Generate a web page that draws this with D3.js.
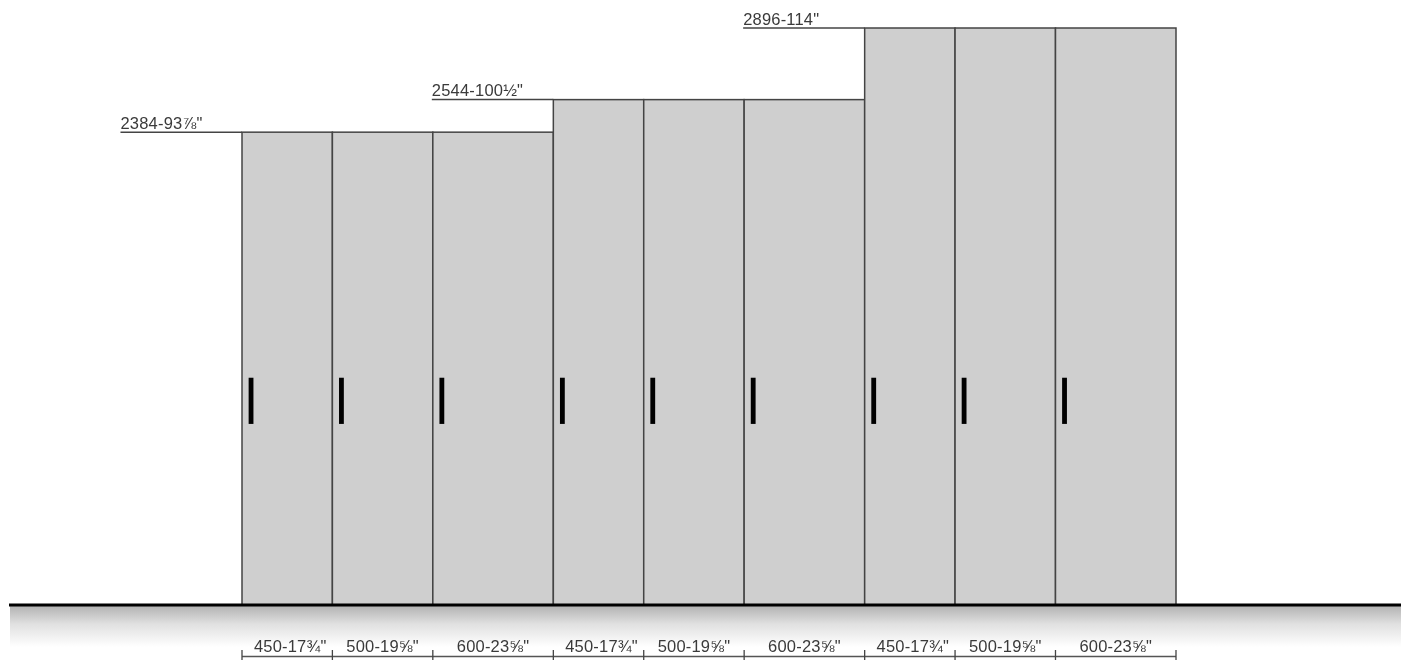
<!DOCTYPE html>
<html>
<head>
<meta charset="utf-8">
<script src="https://cdn.jsdelivr.net/npm/d3@7"></script>
<style>
  html, body { margin: 0; padding: 0; background: #fff; }
  svg { display: block; filter: blur(0.35px); }
  text { font-family: "Liberation Sans", Arial, sans-serif; fill: #3a3a3a; letter-spacing: 0.2px; }
</style>
</head>
<body>
<div id="chart"></div>
<script>
// all in mm
const panelWidths = [450, 500, 600];
const widthLabels = ["450-17¾\"", "500-19⅝\"", "600-23⅝\""];
const cabinetHeights = [2384, 2544, 2896];
const heightLabels = ["2384-93⅞\"", "2544-100½\"", "2896-114\""];
const handleSpan = [950, 1177];
const handleInset = [33, 57];

const width = 1401, height = 660;
const floorY = 605;

const svg = d3.select("#chart").append("svg")
  .attr("width", width)
  .attr("height", height);

// one row of panels per cabinet height
let panels = [];
let run = 0;
cabinetHeights.forEach((h, i) => {
  panelWidths.forEach((w, j) => {
    panels.push({start: run, end: run + w, h: h, group: i, label: widthLabels[j]});
    run += w;
  });
});

const x = d3.scaleLinear().domain([0, run]).range([242, 1176]);
// the scan is a bit squashed near the floor, so y is fitted to the tops
const y = d3.scaleLinear().domain([60, 2896]).range([floorY, 28]);

const defs = svg.append("defs");
const grad = defs.append("linearGradient")
  .attr("id", "floor-shade")
  .attr("x1", 0).attr("y1", 0)
  .attr("x2", 0).attr("y2", 1);
grad.append("stop").attr("offset", "0%").attr("stop-color", "#b0b0b0");
grad.append("stop").attr("offset", "45%").attr("stop-color", "#e0e0e0");
grad.append("stop").attr("offset", "100%").attr("stop-color", "#ffffff");

svg.append("rect")
  .attr("x", 10)
  .attr("y", floorY)
  .attr("width", width - 10)
  .attr("height", 42)
  .attr("fill", "url(#floor-shade)");

// panels
svg.append("g").selectAll("rect")
  .data(panels)
  .enter()
  .append("rect")
  .attr("x", d => x(d.start))
  .attr("y", d => y(d.h))
  .attr("width", d => x(d.end) - x(d.start))
  .attr("height", d => floorY - y(d.h))
  .attr("fill", "#cfcfcf")
  .attr("stroke", "#444")
  .attr("stroke-width", 1.5);

// handles
svg.append("g").selectAll("rect")
  .data(panels)
  .enter()
  .append("rect")
  .attr("x", d => x(d.start + handleInset[0]))
  .attr("y", y(handleSpan[1]))
  .attr("width", x(handleInset[1]) - x(handleInset[0]))
  .attr("height", y(handleSpan[0]) - y(handleSpan[1]))
  .attr("fill", "#000");

// floor
svg.append("line")
  .attr("x1", 9)
  .attr("x2", width)
  .attr("y1", floorY)
  .attr("y2", floorY)
  .attr("stroke", "#000")
  .attr("stroke-width", 3);

// height callouts, they sit over the 600 panel before each step
const callouts = cabinetHeights.map((h, i) => {
  const first = panels.find(p => p.group === i);
  return {h: h, label: heightLabels[i], right: first.start};
});
const leaderLength = panelWidths[2] + 5;

const callout = svg.append("g").selectAll("g")
  .data(callouts)
  .enter()
  .append("g");

callout.append("line")
  .attr("x1", d => x(d.right - leaderLength))
  .attr("x2", d => x(d.right))
  .attr("y1", d => y(d.h))
  .attr("y2", d => y(d.h))
  .attr("stroke", "#444")
  .attr("stroke-width", 1.5);

callout.append("text")
  .attr("x", d => x(d.right - leaderLength))
  .attr("y", d => y(d.h) - 3.5)
  .attr("font-size", 16.5)
  .text(d => d.label);

// width dimensions under the floor
const dimY = 656.5;
const dims = svg.append("g");

dims.append("line")
  .attr("x1", x(0))
  .attr("x2", x(run))
  .attr("y1", dimY)
  .attr("y2", dimY)
  .attr("stroke", "#555")
  .attr("stroke-width", 1.3);

const edges = [0].concat(panels.map(p => p.end));
dims.selectAll("line.tick")
  .data(edges)
  .enter()
  .append("line")
  .attr("class", "tick")
  .attr("x1", d => x(d))
  .attr("x2", d => x(d))
  .attr("y1", 650)
  .attr("y2", 660)
  .attr("stroke", "#444")
  .attr("stroke-width", 1.3);

dims.selectAll("text")
  .data(panels)
  .enter()
  .append("text")
  .attr("x", d => x((d.start + d.end) / 2) + (d.end - d.start === 450 ? 3 : 0))
  .attr("y", 652)
  .attr("text-anchor", "middle")
  .attr("font-size", 16.5)
  .text(d => d.label);
</script>
</body>
</html>
